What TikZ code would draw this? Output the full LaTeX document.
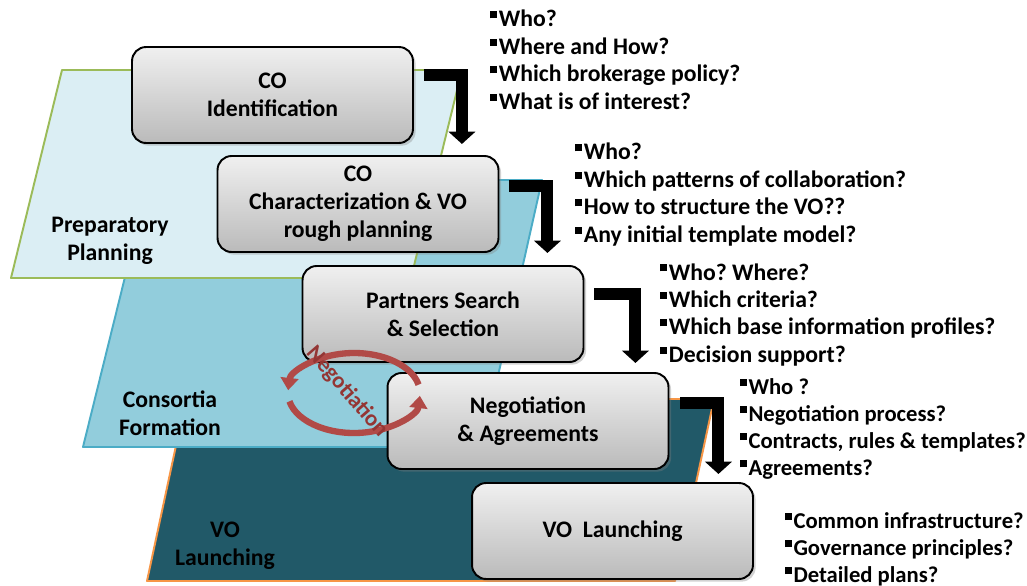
\documentclass[tikz,border=0pt]{standalone}
\usepackage{fontspec}
\setmainfont{Carlito}
\usetikzlibrary{arrows.meta,shadows}

\definecolor{prepfill}{HTML}{DBEEF4}
\definecolor{prepline}{HTML}{9BBB59}
\definecolor{consfill}{HTML}{92CDDC}
\definecolor{consline}{HTML}{4BACC6}
\definecolor{vofill}{HTML}{215968}
\definecolor{voline}{HTML}{F79646}
\definecolor{negred}{HTML}{C0504D}
\definecolor{negdark}{HTML}{943634}

% small raised square bullet
\newcommand{\sqb}{\rule[0.36em]{0.3em}{0.3em}\hspace{0.06em}}

\begin{document}
\frenchspacing
\begin{tikzpicture}[x=0.02cm,y=-0.02cm,
  phase/.style={line width=1.1pt, line join=round},
  stage/.style={draw=black, line width=1.1pt, rounded corners=8pt,
    top color=black!6, bottom color=black!27,
    minimum width=5.62cm, minimum height=1.92cm, align=center, inner sep=2pt,
    font=\fontsize{13.5}{15.9}\selectfont\bfseries,
    drop shadow={shadow xshift=1.5pt, shadow yshift=-1.5pt, opacity=0.35}},
  phaselabel/.style={align=center, inner sep=0pt,
    font=\fontsize{13.5}{15.9}\selectfont\bfseries},
  qlist/.style={anchor=north west, align=left, inner sep=0pt,
    font=\fontsize{13.5}{15.6}\selectfont\bfseries},
  qsmall/.style={qlist, font=\fontsize{12.9}{15.4}\selectfont\bfseries},
  elbow/.style={draw=black, line width=6.8pt, line join=miter,
    -{Triangle[width=15pt,length=7pt]}},
  ring/.style={draw=negred!92!black, line width=3.6pt,
    -{Triangle[width=10pt,length=7pt]}}]

\useasboundingbox (0,0) rectangle (1027,585);
\fill[white] (0,0) rectangle (1027,585);

% phases, back to front
\path[fill=vofill, draw=voline, phase]
  (186,399) -- (714,399) -- (675,581) -- (147,581) -- cycle;
\path[fill=consfill, draw=consline, phase]
  (149,180) -- (542,180) -- (482,447) -- (83,447) -- cycle;
\path[fill=prepfill, draw=prepline, phase]
  (62,70) -- (462,70) -- (411,278) -- (11,278) -- cycle;

\node[phaselabel] (lprep) at (110,241) {Preparatory\\Planning};
\node[phaselabel] (lcons) at (170,413) {Consortia\\Formation};
\node[phaselabel, text=black] (lvo) at (225,546) {VO\\Launching};

% process stages
\node[stage] (coid)     at (272.5,95)  {CO\\Identification};
\node[stage] (cochar)   at (358,204)   {CO\\Characterization \& VO\\rough planning};
\node[stage] (partners) at (443,314)   {Partners Search\\\& Selection};
\node[stage] (negot)    at (528,421)   {Negotiation\\\& Agreements};
\node[stage] (volaunch) at (612.5,531) {VO~~Launching};

% elbow arrows between stages
\draw[elbow] ([shift={(10,29)}]coid.north east)     -| ([shift={(48,0)}]coid.south east);
\draw[elbow] ([shift={(10,31)}]cochar.north east)   -| ([shift={(48,0)}]cochar.south east);
\draw[elbow] ([shift={(10,29)}]partners.north east) -| ([shift={(51,0)}]partners.south east);
\draw[elbow] ([shift={(11,31)}]negot.north east)    -| ([shift={(49,4)}]negot.south east);

% guiding questions
\node[qlist] (q1) at (490,10) {\sqb Who?\\\sqb Where and How?\\\sqb Which brokerage policy?\\\sqb What is of interest?};
\node[qlist] (q2) at (575,143) {\sqb Who?\\\sqb Which patterns of collaboration?\\\sqb How to structure the VO??\\\sqb Any initial template model?};
\node[qlist] (q3) at (660,263) {\sqb Who? Where?\\\sqb Which criteria?\\\sqb Which base information profiles?\\\sqb Decision support?};
\node[qsmall] (q4) at (740,378) {\sqb Who ?\\\sqb Negotiation process?\\\sqb Contracts, rules \& templates?\\\sqb Agreements?};
\node[qsmall] (q5) at (785,512) {\sqb Common infrastructure?\\\sqb Governance principles?\\\sqb Detailed plans?};

% negotiation cycle
\coordinate (negc) at (354,393);
\begin{scope}[shift={(negc)}, x=0.02cm, y=0.02cm]
  \draw[ring] (12:66 and 40) arc[start angle=12, end angle=176, x radius=66, y radius=40];
  \draw[ring] (192:66 and 40) arc[start angle=192, end angle=356, x radius=66, y radius=40];
\end{scope}
\node[rotate=-49, text=negdark, inner sep=0pt,
  font=\fontsize{13}{15}\selectfont\bfseries] (negtxt) at (347,392) {Negotiation};

\end{tikzpicture}
\end{document}
